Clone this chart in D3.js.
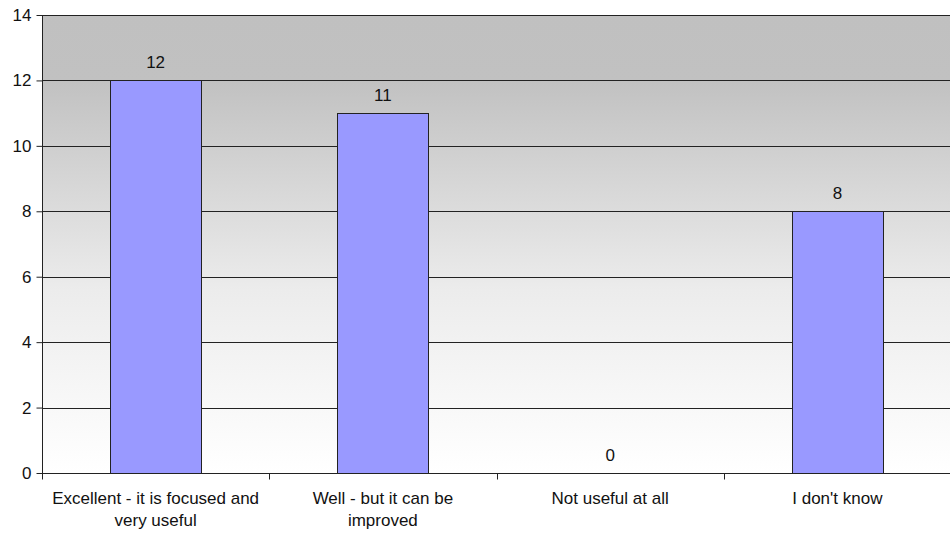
<!DOCTYPE html>
<html><head><meta charset="utf-8">
<script src="https://cdn.jsdelivr.net/npm/d3@7"></script>
<style>body{margin:0;background:#fff;} svg{display:block;font-family:"Liberation Sans",Arial,sans-serif;}</style>
</head><body>
<svg id="c" width="950" height="534"></svg>
<script>
const categories = [["Excellent - it is focused and","very useful"],["Well - but it can be","improved"],["Not useful at all"],["I don't know"]];
const values = [12, 11, 0, 8];
const yTicks = [0,2,4,6,8,10,12,14];

const svg = d3.select("#c");
const m = {l:42, t:15, r:951, b:473};
const x = d3.scaleBand().domain(d3.range(values.length)).range([m.l, m.r]).paddingInner(0).paddingOuter(0);
const y = d3.scaleLinear().domain([0,14]).range([m.b, m.t]);

const defs = svg.append("defs");
const g = defs.append("linearGradient").attr("id","bg").attr("x1",0).attr("y1",0).attr("x2",0).attr("y2",1);
g.append("stop").attr("offset","0").attr("stop-color","#c0c0c0");
g.append("stop").attr("offset","0.14").attr("stop-color","#c1c1c1");
g.append("stop").attr("offset","0.6").attr("stop-color","#ececec");
g.append("stop").attr("offset","1").attr("stop-color","#ffffff");

svg.append("rect").attr("x",m.l).attr("y",m.t).attr("width",m.r-m.l).attr("height",m.b-m.t).attr("fill","url(#bg)");

// gridlines
svg.append("g").selectAll("line").data(yTicks.filter(d=>d>0)).join("line")
  .attr("x1",m.l).attr("x2",m.r).attr("y1",d=>Math.round(y(d))+0.5).attr("y2",d=>Math.round(y(d))+0.5)
  .attr("stroke","#222").attr("stroke-width",1);

// bars
const bw = x.bandwidth()*0.4;
svg.append("g").selectAll("rect").data(values).join("rect")
  .attr("x",(d,i)=>Math.round(x(i)+x.bandwidth()/2-bw/2)+0.5)
  .attr("y",d=>Math.round(y(d))+0.5)
  .attr("width",Math.round(bw))
  .attr("height",d=>Math.max(0,Math.round(y(0))-Math.round(y(d))))
  .attr("fill","#9999ff").attr("stroke","#222").attr("stroke-width",1)
  .style("display",d=>d>0?null:"none");

// value labels
svg.append("g").selectAll("text").data(values).join("text")
  .attr("x",(d,i)=>x(i)+x.bandwidth()/2)
  .attr("y",d=>y(d)-12)
  .attr("text-anchor","middle").attr("font-size",17).attr("fill","#111")
  .text(d=>d);

// y axis
const ya = svg.append("g").attr("transform",`translate(${m.l+0.5},0)`)
  .call(d3.axisLeft(y).tickValues(yTicks).tickSize(6).tickPadding(5).tickFormat(d3.format("d")));
ya.select(".domain").attr("stroke","#222").attr("d",`M0,${m.t}V${m.b}`);
ya.selectAll(".tick line").attr("stroke","#222");
ya.selectAll("text").attr("font-size",17).attr("fill","#111").attr("font-family","Liberation Sans, Arial, sans-serif");

// x axis
const xa = svg.append("g").attr("transform",`translate(0,${Math.round(y(0))+0.5})`);
xa.append("line").attr("x1",m.l).attr("x2",m.r).attr("stroke","#222");
xa.selectAll("line.t").data(d3.range(values.length+1)).join("line").attr("class","t")
  .attr("x1",i=>Math.round(m.l+i*x.bandwidth())+0.5).attr("x2",i=>Math.round(m.l+i*x.bandwidth())+0.5)
  .attr("y1",0).attr("y2",6).attr("stroke","#222");
const lab = xa.selectAll("text").data(categories).join("text")
  .attr("x",(d,i)=>x(i)+x.bandwidth()/2).attr("y",30)
  .attr("text-anchor","middle").attr("font-size",17).attr("fill","#111");
lab.selectAll("tspan").data(d=>d).join("tspan")
  .attr("x",function(){return d3.select(this.parentNode).attr("x");})
  .attr("dy",(d,i)=>i===0?0:22).text(d=>d);
</script>
</body></html>
